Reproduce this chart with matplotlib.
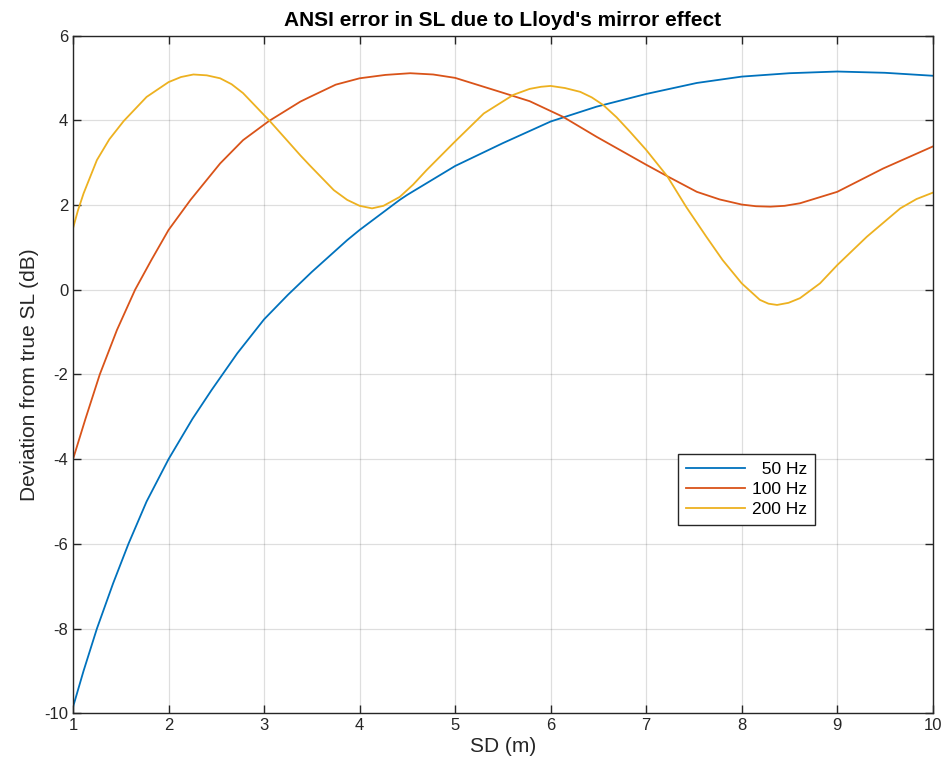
import matplotlib
matplotlib.use("Agg")
import matplotlib.pyplot as plt

plt.rcParams['font.family'] = ['Liberation Sans', 'DejaVu Sans']
plt.rcParams['axes.unicode_minus'] = False

# Source-depth samples (m) and deviation from true SL (dB) for each frequency
sd_50 = [1.0, 1.11, 1.25, 1.42, 1.58, 1.77, 2.0, 2.25, 2.45, 2.72, 3.0, 3.25,
         3.5, 3.87, 4.0, 4.42, 4.5, 5.0, 5.5, 6.0, 6.48, 7.0, 7.53, 8.0, 8.5,
         9.0, 9.5, 10.0]
dev_50 = [-9.85, -9.0, -8.0, -6.93, -6.0, -5.0, -4.0, -3.05, -2.37, -1.50,
          -0.70, -0.12, 0.42, 1.17, 1.41, 2.12, 2.24, 2.92, 3.46, 3.97, 4.32,
          4.62, 4.88, 5.03, 5.11, 5.15, 5.12, 5.05]

sd_100 = [1.0, 1.13, 1.28, 1.46, 1.65, 1.82, 2.0, 2.23, 2.54, 2.78, 3.05, 3.38,
          3.48, 3.75, 4.0, 4.27, 4.53, 4.77, 5.0, 5.47, 5.78, 6.13, 6.48, 7.0,
          7.22, 7.53, 7.77, 8.0, 8.15, 8.3, 8.45, 8.61, 9.0, 9.48, 10.0]
dev_100 = [-4.0, -3.05, -2.0, -0.95, 0.0, 0.70, 1.41, 2.12, 2.98, 3.53, 3.98, 4.44,
           4.55, 4.84, 4.99, 5.07, 5.11, 5.08, 5.0, 4.67, 4.45, 4.08, 3.61, 2.95,
           2.68, 2.31, 2.13, 2.01, 1.97, 1.96, 1.98, 2.04, 2.31, 2.86, 3.38]

sd_200 = [1.0, 1.05, 1.11, 1.25, 1.38, 1.53, 1.77, 2.0, 2.13, 2.26, 2.40, 2.54,
          2.66, 2.78, 3.06, 3.25, 3.38, 3.48, 3.73, 3.87, 4.0, 4.13, 4.25, 4.42,
          4.56, 4.70, 5.0, 5.30, 5.61, 5.78, 5.90, 6.0, 6.15, 6.31, 6.43, 6.55,
          6.69, 6.83, 7.0, 7.22, 7.42, 7.63, 7.8, 8.0, 8.19, 8.28, 8.37, 8.49,
          8.61, 8.82, 9.0, 9.31, 9.66, 9.83, 10.0]
dev_200 = [1.45, 1.86, 2.27, 3.06, 3.55, 3.98, 4.55, 4.9, 5.02, 5.08, 5.06, 4.99,
           4.85, 4.64, 3.98, 3.50, 3.17, 2.93, 2.35, 2.12, 1.98, 1.92, 1.98, 2.19,
           2.48, 2.82, 3.50, 4.16, 4.60, 4.74, 4.79, 4.81, 4.76, 4.67, 4.54, 4.36,
           4.07, 3.73, 3.30, 2.68, 1.95, 1.25, 0.70, 0.15, -0.24, -0.33, -0.36,
           -0.31, -0.20, 0.15, 0.58, 1.25, 1.92, 2.14, 2.29]

labels = ['  50 Hz', '100 Hz', '200 Hz']
colors = ['#0072BD', '#D95319', '#EDB120']

x_ticks = [1, 2, 3, 4, 5, 6, 7, 8, 9, 10]
y_ticks = [-10, -8, -6, -4, -2, 0, 2, 4, 6]

fig = plt.figure(figsize=(9.46, 7.72), dpi=100)
ax = fig.add_axes([0.0772, 0.076, 0.9088, 0.878])

for xs, ys, lab, col in zip([sd_50, sd_100, sd_200], [dev_50, dev_100, dev_200],
                            labels, colors):
    ax.plot(xs, ys, color=col, lw=1.3, label=lab, solid_joinstyle='round')

ax.set_xlim(1, 10)
ax.set_ylim(-10, 6)
ax.set_xticks(x_ticks)
ax.set_yticks(y_ticks)
ax.grid(True, color='#000000', alpha=0.13, lw=0.9)
ax.set_axisbelow(True)

for s in ax.spines.values():
    s.set_color('#262626')
    s.set_linewidth(1.0)
ax.tick_params(direction='in', top=True, right=True, length=6, width=1.0,
               colors='#262626', labelsize=12, labelcolor='#262626')

ax.set_title("ANSI error in SL due to Lloyd's mirror effect", fontsize=15,
             fontweight='bold', pad=7)
ax.set_xlabel('SD (m)', fontsize=15, color='#262626', labelpad=3)
ax.set_ylabel('Deviation from true SL (dB)', fontsize=15, color='#262626')

leg = ax.legend(loc='upper left', bbox_to_anchor=(0.704, 0.383), borderaxespad=0,
                fontsize=12.5, fancybox=False, framealpha=1, edgecolor='#262626',
                handlelength=3.4, handletextpad=0.4, labelspacing=0.3,
                borderpad=0.45)
leg.get_frame().set_linewidth(1.0)

fig.savefig('out.png', dpi=100)
